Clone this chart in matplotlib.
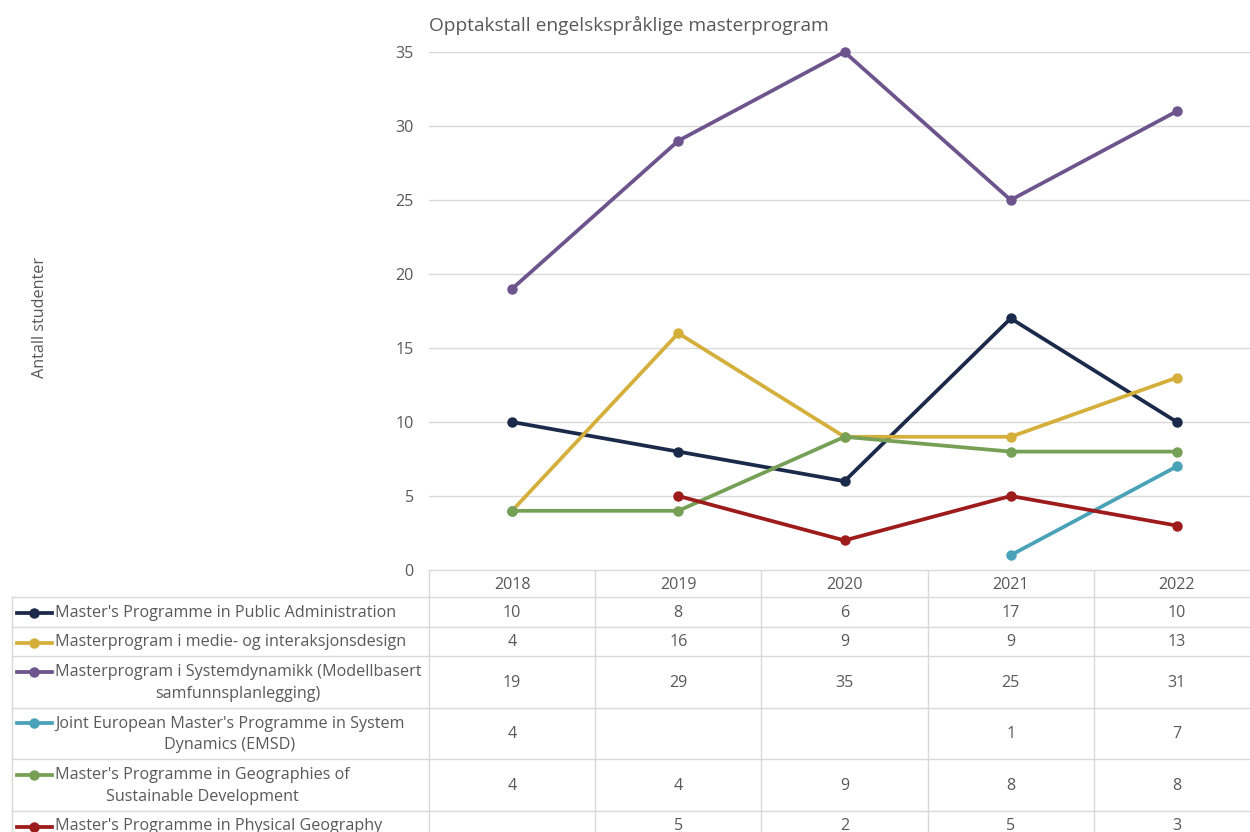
import numpy as np
import matplotlib

matplotlib.use("Agg")
import matplotlib.pyplot as plt

plt.rcParams["font.family"] = ["Open Sans", "DejaVu Sans"]

years = ["2018", "2019", "2020", "2021", "2022"]
series_names = [
    "Master's Programme in Public Administration",
    "Masterprogram i medie- og interaksjonsdesign",
    "Masterprogram i Systemdynamikk (Modellbasert\nsamfunnsplanlegging)",
    "Joint European Master's Programme in System\nDynamics (EMSD)",
    "Master's Programme in Geographies of\nSustainable Development",
    "Master's Programme in Physical Geography",
]
public_admin = [10, 8, 6, 17, 10]
medie_design = [4, 16, 9, 9, 13]
systemdynamikk = [19, 29, 35, 25, 31]
emsd = [4, np.nan, np.nan, 1, 7]
geographies = [4, 4, 9, 8, 8]
physical_geo = [np.nan, 5, 2, 5, 3]
series_values = [public_admin, medie_design, systemdynamikk, emsd, geographies, physical_geo]
colors = ["#1B2A4A", "#D5AF3C", "#6E548D", "#4AA2B9", "#76A055", "#9E1B1B"]

W, H = 1250, 832
TXT = "#595959"
GRID = "#D9D9D9"
FS = 11.6
LW = 2.7
MS = 6.5

fig = plt.figure(figsize=(W / 100, H / 100), dpi=100)

# plot area in pixel coordinates (extends a bit past the right edge, like the source)
x0, x1, ytop, ybot = 429, 1260, 52, 570
ax = fig.add_axes([x0 / W, 1 - ybot / H, (x1 - x0) / W, (ybot - ytop) / H])
xs = np.arange(len(years))
for i, (vals, col) in enumerate(zip(series_values, colors)):
    ax.plot(xs, vals, "-o", color=col, lw=LW, ms=MS, zorder=3 + i, clip_on=False)
ax.set_xlim(-0.5, len(years) - 0.5)
ax.set_ylim(0, 35)
ax.set_yticks(range(0, 36, 5))
ax.set_xticks([])
ax.grid(axis="y", color=GRID, lw=1)
ax.set_axisbelow(True)
for s in ax.spines.values():
    s.set_visible(False)
ax.tick_params(axis="y", length=0, pad=11, labelsize=FS, labelcolor=TXT)

# overlay for title, axis label and data table
ov = fig.add_axes([0, 0, 1, 1], zorder=-1)
ov.set_xlim(0, W)
ov.set_ylim(H, 0)
ov.axis("off")

ov.text(429, 25, "Opptakstall engelskspråklige masterprogram", fontsize=13.8,
        color=TXT, ha="left", va="center")
ov.text(40, 318, "Antall studenter", fontsize=FS, color=TXT, rotation=90,
        ha="center", va="center")

col_w = (x1 - x0) / len(years)
col_edges = [x0 + k * col_w for k in range(len(years) + 1)]
col_centers = [x0 + (k + 0.5) * col_w for k in range(len(years))]
row_edges = [597, 627, 656, 708, 759, 811, 840]
table_left = 12

ov.plot([x0, x1], [570, 570], color=GRID, lw=1)
for e in col_edges:
    ov.plot([e, e], [570, 840], color=GRID, lw=1)
ov.plot([table_left, table_left], [row_edges[0], 840], color=GRID, lw=1)
for r in row_edges[:-1]:
    ov.plot([table_left, x1], [r, r], color=GRID, lw=1)

for yr, cx in zip(years, col_centers):
    ov.text(cx, 585, yr, fontsize=FS, color=TXT, ha="center", va="center")

for i, (name, vals, col) in enumerate(zip(series_names, series_values, colors)):
    top, bot = row_edges[i], row_edges[i + 1]
    cy = (top + bot) / 2 + 1
    my = cy - 11.5 if "\n" in name else cy
    ov.plot([17, 52], [my, my], color=col, lw=LW)
    ov.plot([34], [my], "o", color=col, ms=MS)
    ov.text(55, cy, name, fontsize=FS, color=TXT, ha="left", va="center",
            multialignment="center", linespacing=1.45)
    for v, cx in zip(vals, col_centers):
        if not np.isnan(v):
            ov.text(cx, cy, f"{int(v)}", fontsize=FS, color=TXT, ha="center", va="center")

fig.savefig("out.png", dpi=100)
